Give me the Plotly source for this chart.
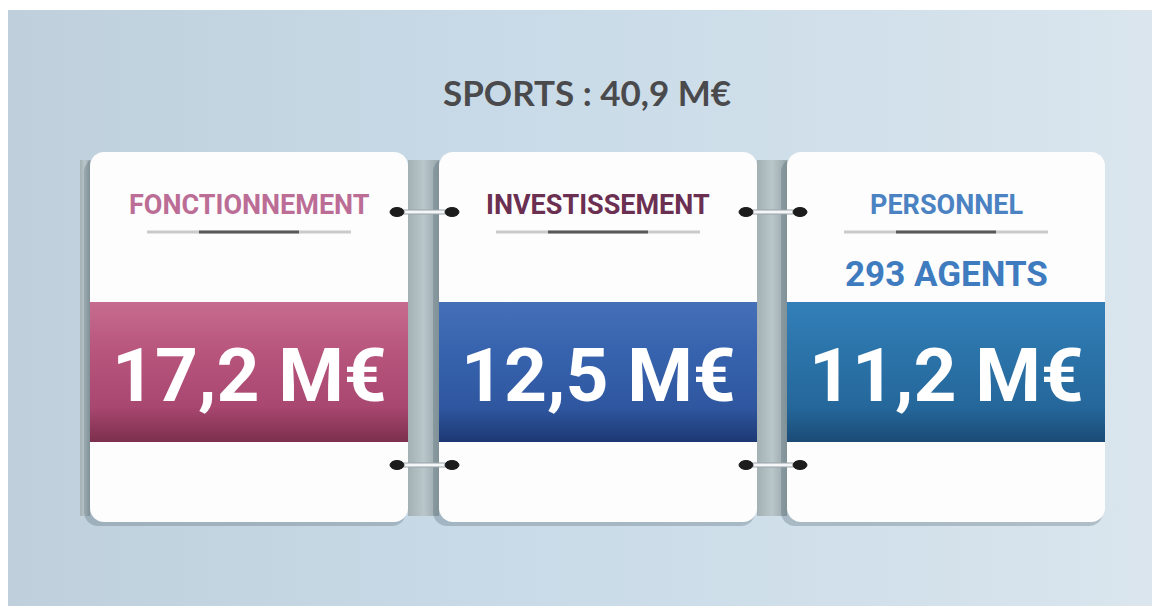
import numpy as np
import plotly.graph_objects as go

# ---------------- data ----------------
total_label = "SPORTS"
total_value = 40.9
categories = ["FONCTIONNEMENT", "INVESTISSEMENT", "PERSONNEL"]
amounts = [17.2, 12.5, 11.2]
sub_labels = ["", "", "293 AGENTS"]
unit = "M€"

# ---------------- styles ----------------
label_colors = ["#bb6d96", "#6b2f52", "#4a82c2"]
sub_colors = ["#3f7bbf", "#3f7bbf", "#3f7bbf"]
band_scales = [
    [[0, "#c66c8f"], [0.35, "#b8557d"], [0.75, "#a84770"], [1, "#7c2f4d"]],
    [[0, "#4570b8"], [0.35, "#3763ae"], [0.75, "#2f57a0"], [1, "#1d3873"]],
    [[0, "#337fb8"], [0.35, "#2b74aa"], [0.75, "#25679b"], [1, "#1a4b75"]],
]
FONT = "Roboto, Liberation Sans, sans-serif"

W, H = 1160, 609
OFF = 8  # page body margin
card_x0 = [90, 439, 787]
card_w = 318
card_top, card_bot = 152, 522
band_top, band_bot = 302, 442


def fmt(v):
    return f"{v:.1f}".replace(".", ",")


def rrect(x0, y0, x1, y1, r, n=10):
    pts = []
    corners = [
        (x1 - r, y0 + r, -np.pi / 2, 0),
        (x1 - r, y1 - r, 0, np.pi / 2),
        (x0 + r, y1 - r, np.pi / 2, np.pi),
        (x0 + r, y0 + r, np.pi, 3 * np.pi / 2),
    ]
    for cx, cy, a0, a1 in corners:
        t = np.linspace(a0, a1, n)
        for tt in t:
            pts.append((cx + r * np.cos(tt), cy + r * np.sin(tt)))
    pts.append(pts[0])
    xs, ys = zip(*pts)
    return list(xs), list(ys)


fig = go.Figure()

# background panel
fig.add_trace(go.Scatter(
    x=[7, W + 10, W + 10, 7, 7], y=[10, 10, 606, 606, 10], mode="none", fill="toself",
    fillgradient=dict(type="horizontal", start=7, stop=W,
                      colorscale=[[0, "#bfd0dc"], [0.45, "#c9dbe8"], [0.8, "#d3e1eb"], [1, "#dbe6ee"]]),
    hoverinfo="skip", showlegend=False))

# gaps / shadows between cards
gap_ranges = [(80, card_x0[0])] + [(card_x0[i] + card_w, card_x0[i + 1]) for i in range(2)]
for gx0, gx1 in gap_ranges:
    fig.add_trace(go.Scatter(
        x=[gx0, gx1, gx1, gx0, gx0], y=[160, 160, 516, 516, 160], mode="none", fill="toself",
        fillgradient=dict(type="horizontal", start=gx0, stop=gx1,
                          colorscale=[[0, "#a3b1b5"], [0.5, "#b9c6ca"], [1, "#97a6ab"]]),
        hoverinfo="skip", showlegend=False))

for i, cat in enumerate(categories):
    x0 = card_x0[i]
    x1 = x0 + card_w
    cx = (x0 + x1) / 2
    # shadow
    sx, sy = rrect(x0 - 6, card_top + 6, x1 - 2, card_bot + 4, 14)
    fig.add_trace(go.Scatter(x=sx, y=sy, mode="none", fill="toself",
                             fillcolor="rgba(70,90,100,0.28)", hoverinfo="skip", showlegend=False))
    # card
    kx, ky = rrect(x0, card_top, x1, card_bot, 14)
    fig.add_trace(go.Scatter(x=kx, y=ky, mode="none", fill="toself",
                             fillcolor="#fdfdfd", hoverinfo="skip", showlegend=False))
    # coloured band
    fig.add_trace(go.Scatter(
        x=[x0, x1, x1, x0, x0], y=[band_top, band_top, band_bot, band_bot, band_top],
        mode="none", fill="toself",
        fillgradient=dict(type="vertical", start=band_top, stop=band_bot, colorscale=band_scales[i]),
        hoverinfo="skip", showlegend=False))
    # underline
    fig.add_shape(type="line", x0=cx - 102, x1=cx + 102, y0=232, y1=232,
                  line=dict(color="rgba(140,140,140,0.45)", width=3))
    fig.add_shape(type="line", x0=cx - 50, x1=cx + 50, y0=232, y1=232,
                  line=dict(color="rgba(60,60,60,0.8)", width=3))
    # header label
    fig.add_annotation(x=cx, y=205, text=cat, showarrow=False,
                       font=dict(family=FONT, size=27, color=label_colors[i], weight=700))
    if sub_labels[i]:
        fig.add_annotation(x=cx, y=274, text=sub_labels[i], showarrow=False,
                           font=dict(family=FONT, size=35, color=sub_colors[i], weight=700))
    # amount
    fig.add_annotation(x=cx, y=375, text=f"{fmt(amounts[i])} {unit}", showarrow=False,
                       font=dict(family=FONT, size=75, color="white", weight=700))

# ring connectors between cards
for i in range(2):
    left_edge = card_x0[i] + card_w
    right_edge = card_x0[i + 1]
    for yy in (212, 465):
        lx, rx = left_edge - 11, right_edge + 13
        fig.add_shape(type="line", x0=lx, x1=rx, y0=yy, y1=yy,
                      line=dict(color="#9aa4a8", width=5))
        fig.add_shape(type="line", x0=lx, x1=rx, y0=yy, y1=yy,
                      line=dict(color="#f4f6f7", width=3))
        for ox in (lx, rx):
            fig.add_shape(type="circle", x0=ox - 7, x1=ox + 7, y0=yy - 4.5, y1=yy + 4.5,
                          fillcolor="#1c1c1c", line=dict(color="#1c1c1c", width=1))

# title
fig.add_annotation(x=587, y=92, text=f"{total_label} : {fmt(total_value)} {unit}", showarrow=False,
                   font=dict(family="Lato, Open Sans, sans-serif", size=35, color="#4a4a4d", weight=700))

fig.update_layout(
    width=W, height=H, margin=dict(l=0, r=0, t=0, b=0),
    paper_bgcolor="white", plot_bgcolor="white",
    xaxis=dict(range=[OFF, W + OFF], visible=False, fixedrange=True),
    yaxis=dict(range=[H + OFF, OFF], visible=False, fixedrange=True),
    showlegend=False,
)

fig.write_html("out.html")
